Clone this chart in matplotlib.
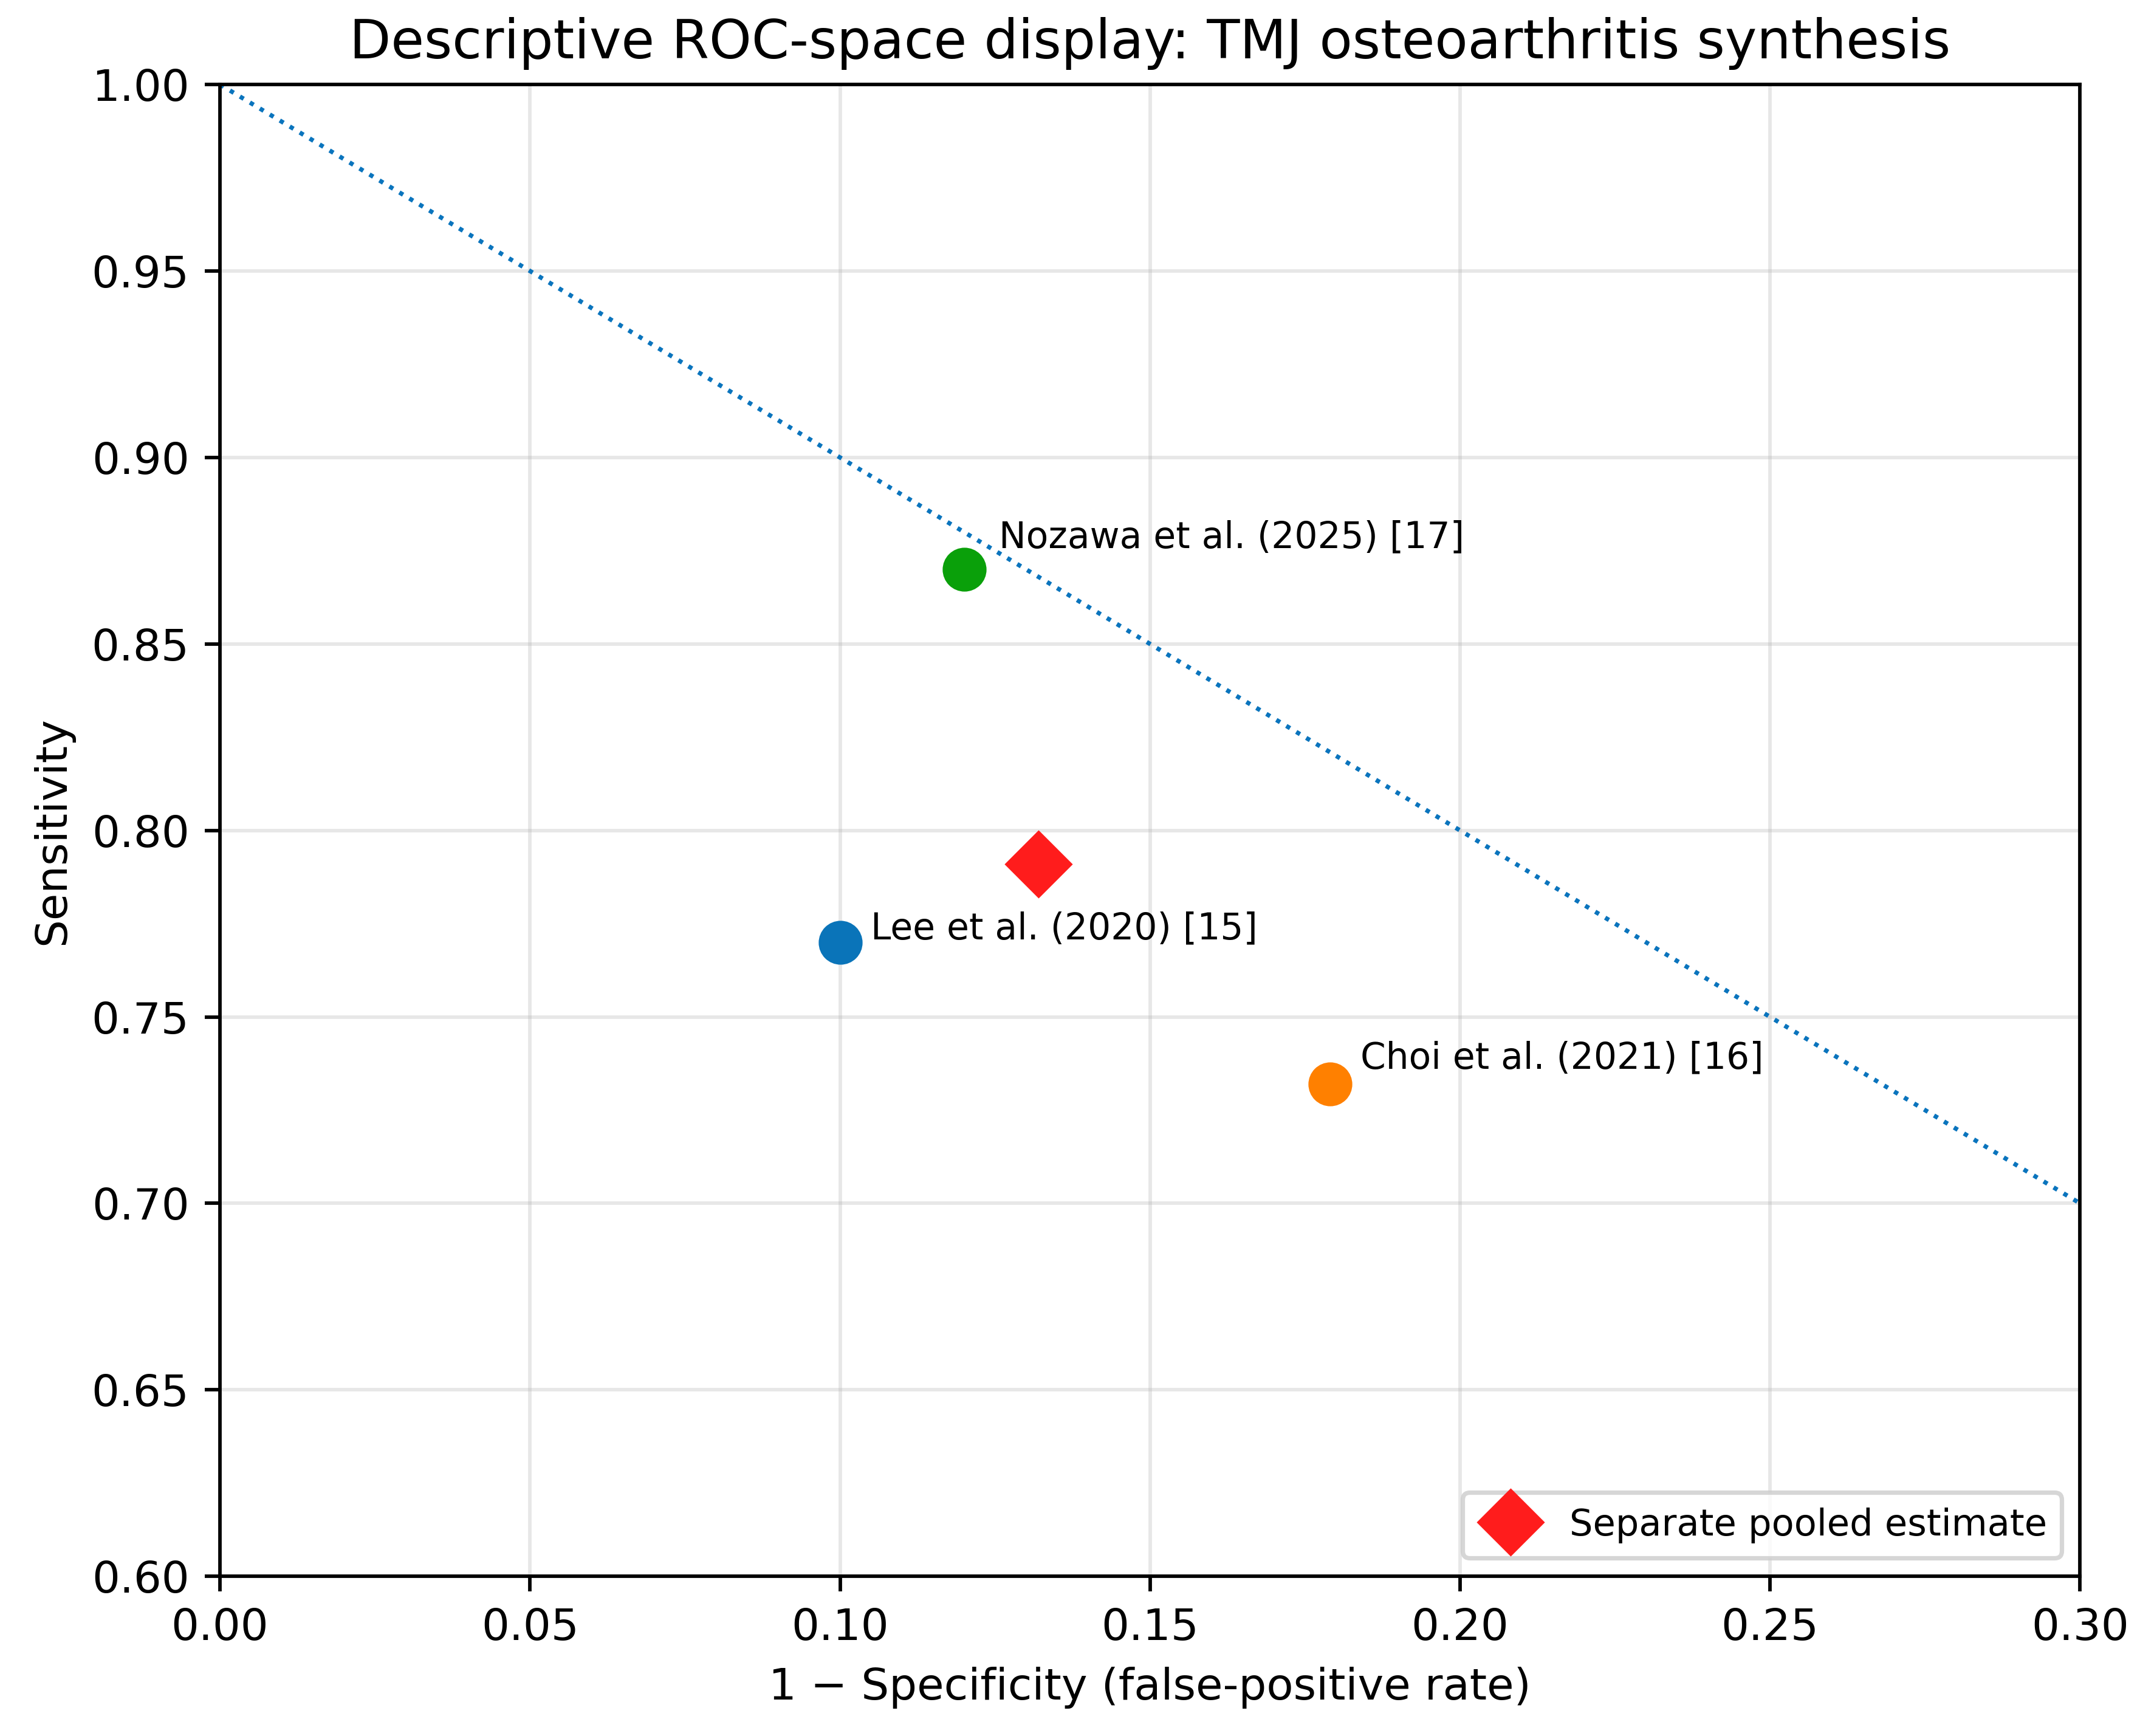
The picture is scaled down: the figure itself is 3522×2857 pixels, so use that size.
import matplotlib
matplotlib.use("Agg")
import matplotlib.pyplot as plt
import numpy as np

# study-level estimates (1 - specificity, sensitivity)
studies = ["Lee et al. (2020) [15]", "Choi et al. (2021) [16]", "Nozawa et al. (2025) [17]"]
fpr = [0.10, 0.179, 0.12]
sens = [0.770, 0.732, 0.870]
colors = ["#0a74b9", "#ff8000", "#0aa00a"]

# separately pooled estimate
pooled_fpr = 0.132
pooled_sens = 0.791

# reference line sens = spec
ref_x = np.array([0.0, 0.3])
ref_y = 1 - ref_x

# label offsets in points (layout only)
offsets = [(7, 0.7), (7, 3.5), (8, 5)]

dpi = 520
fig = plt.figure(figsize=(3522 / dpi, 2857 / dpi), dpi=dpi)
ax = fig.add_subplot(111)
fig.subplots_adjust(left=0.1028, right=0.972, top=0.9513, bottom=0.092)

ax.plot(ref_x, ref_y, linestyle=":", color="#0a74bd", linewidth=1.0)

for name, x, y, c, off in zip(studies, fpr, sens, colors, offsets):
    ax.plot(x, y, "o", color=c, markersize=9, zorder=3)
    ax.annotate(name, (x, y), xytext=off, textcoords="offset points",
                ha="left", va="baseline", fontsize=8.3)

ax.plot(pooled_fpr, pooled_sens, "D", color="#ff1c1c", markersize=10,
        linestyle="none", zorder=4, label="Separate pooled estimate")

ax.set_xlim(0, 0.3)
ax.set_ylim(0.6, 1.0)
ax.grid(True, alpha=0.3)
ax.set_xlabel("1 \u2212 Specificity (false-positive rate)", fontsize=10)
ax.set_ylabel("Sensitivity", fontsize=10)
ax.set_title("Descriptive ROC-space display: TMJ osteoarthritis synthesis", fontsize=12.3)
ax.tick_params(labelsize=10)
ax.legend(loc="lower right", fontsize=8.4, handlelength=1.8, handletextpad=0.7)

fig.savefig("out.png", dpi=dpi)
